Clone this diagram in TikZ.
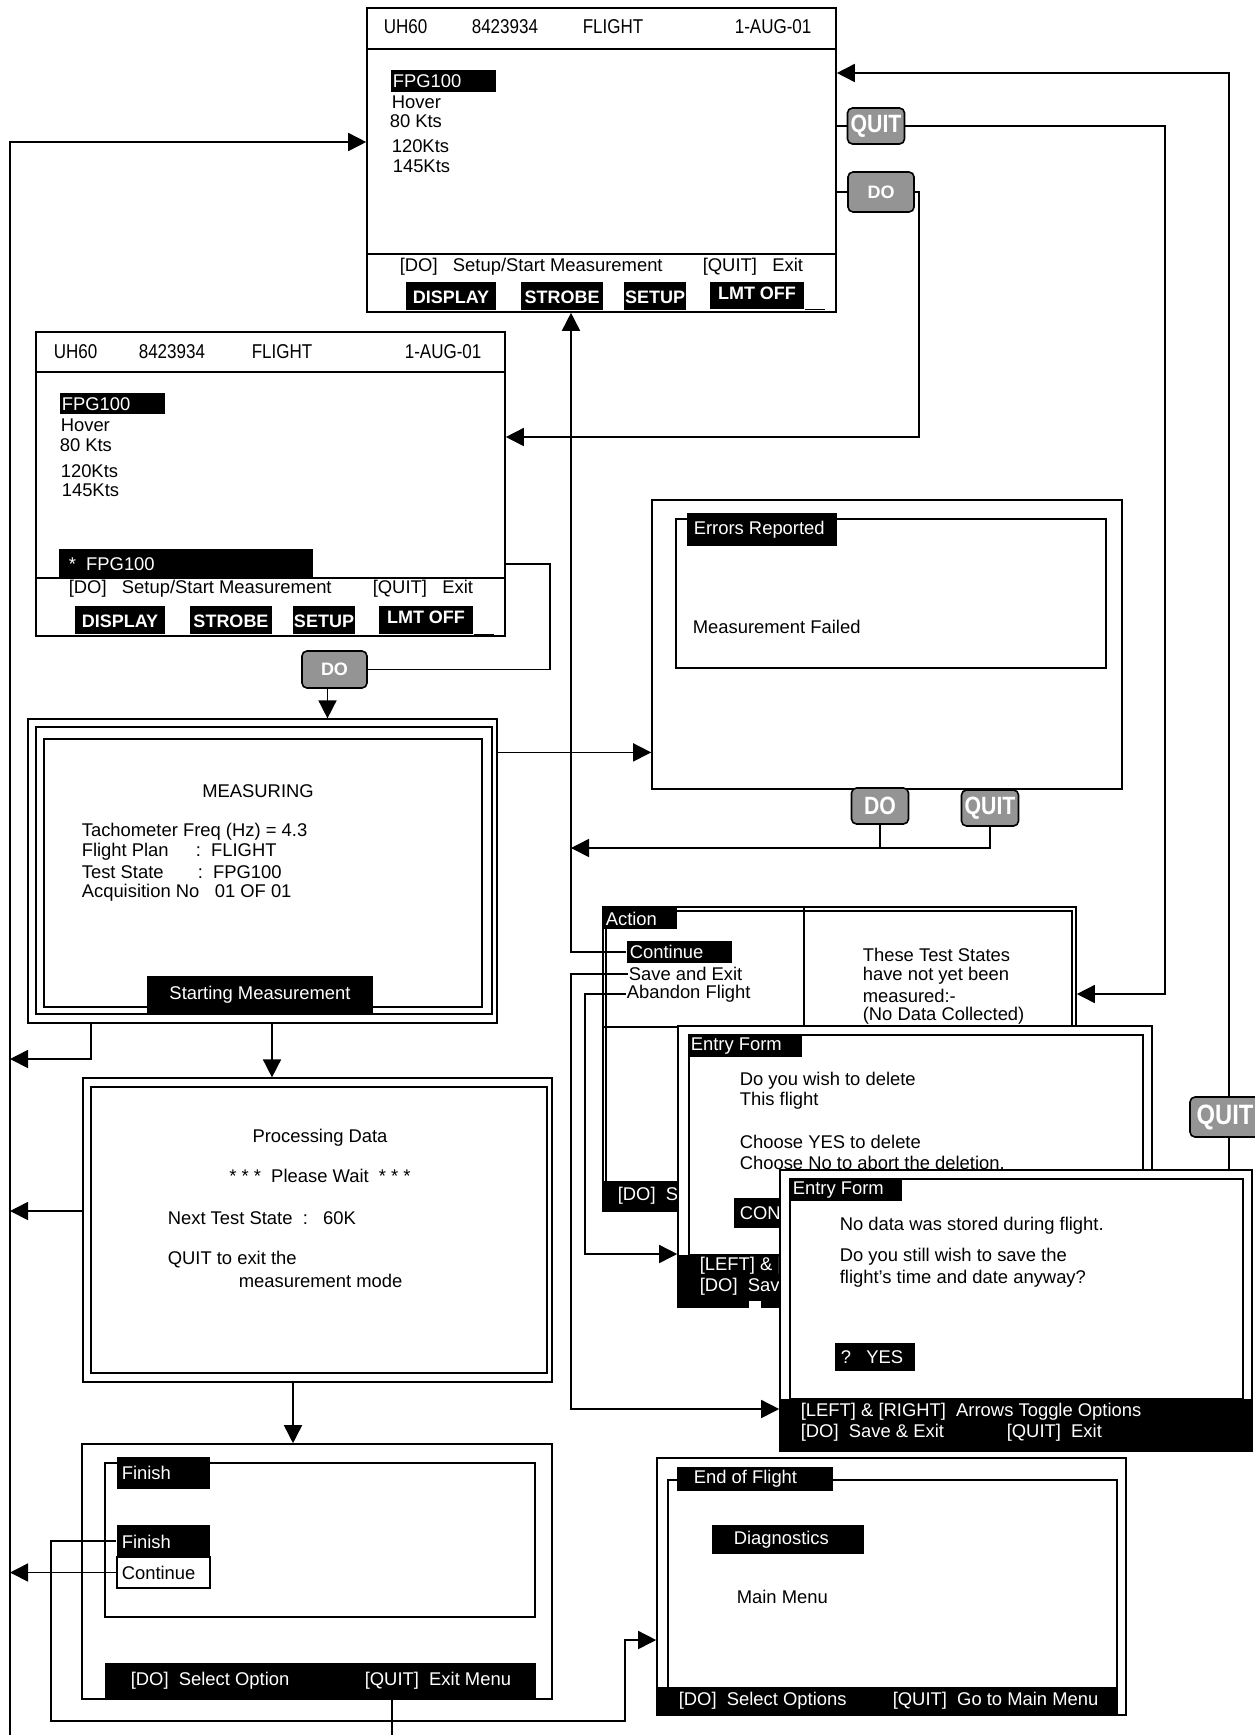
\documentclass[tikz,border=0pt]{standalone}
\usepackage{fontspec}
\setmainfont{Liberation Sans}
\newfontfamily\condfont[FakeStretch=0.85]{Liberation Sans}
\usetikzlibrary{arrows.meta,fit}

\begin{document}
\begin{tikzpicture}[x=0.5pt,y=-0.5pt,line width=0.8pt,
  every node/.style={font=\fontsize{9.2}{11}\selectfont, inner sep=0pt},
  scr/.style={draw, fill=white, inner sep=0pt},
  bar/.style={fill=black, inner sep=0pt},
  txt/.style={anchor=west},
  inv/.style={anchor=west, text=white},
  hdr/.style={anchor=west, font=\condfont\fontsize{10}{12}\selectfont},
  softkey/.style={text=white, font=\bfseries\fontsize{9}{11}\selectfont},
  btnsm/.style={draw, rounded corners=2.5pt, fill=black!42, text=white, font=\bfseries\fontsize{9}{11}\selectfont},
  btnbig/.style={draw, rounded corners=2.5pt, fill=black!42, text=white, font=\condfont\bfseries\fontsize{12.5}{14}\selectfont, minimum width=28.5pt, minimum height=18pt},
  arr/.style={-{Triangle[length=9pt,width=9pt]}}]
\useasboundingbox (0,0) rectangle (1254,1735);

% test state list
\node[scr, fit={(367,8) (836,312)}] (scrA) {};
\draw (367,49) -- (836,49) (367,254) -- (836,254);
\node[hdr] (aUh) at (383,27) {UH60};
\node[hdr] (aSer) at (471,27) {8423934};
\node[hdr] (aPlan) at (582,27) {FLIGHT};
\node[hdr] (aDate) at (734,27) {1-AUG-01};
\node[bar, fit={(391,70) (496,92)}] (aSel) {};
\node[inv] (aTs1) at (392,81) {FPG100};
\node[txt] (aTs2) at (391,102) {Hover};
\node[txt] (aTs3) at (389,121) {80 Kts};
\node[txt] (aTs4) at (391,146) {120Kts};
\node[txt] (aTs5) at (392,166) {145Kts};
\node[txt] (aHelp) at (399,267) {[DO]\ \ \ Setup/Start Measurement};
\node[txt] (aExit) at (702,267) {[QUIT]\ \ \ Exit};
\node[bar, fit={(406,282) (496,310)}] (aK1) {};
\node[bar, fit={(521,282) (603,310)}] (aK2) {};
\node[bar, fit={(624,282) (686,310)}] (aK3) {};
\node[bar, fit={(710,282) (804,309)}] (aK4) {};
\node[softkey] (aK1t) at (451,297) {DISPLAY};
\node[softkey] (aK2t) at (562,297) {STROBE};
\node[softkey] (aK3t) at (655,297) {SETUP};
\node[softkey] (aK4t) at (757,293) {LMT OFF};
\draw[line width=0.5pt] (aK4.south east) -- ++(20,0);
\node[btnbig] (k1quit) at (876,126) {QUIT};
\node[btnsm, minimum width=33pt, minimum height=20pt] (k1do) at (881,192) {DO};

% test state selected
\node[scr, fit={(36,332) (505,636)}] (scrB) {};
\draw (36,372) -- (505,372) (36,578) -- (505,578);
\node[hdr] (bUh) at (53,352) {UH60};
\node[hdr] (bSer) at (138,352) {8423934};
\node[hdr] (bPlan) at (251,352) {FLIGHT};
\node[hdr] (bDate) at (404,352) {1-AUG-01};
\node[bar, fit={(60,393) (165,414)}] (bSel) {};
\node[inv] (bTs1) at (61,404) {FPG100};
\node[txt] (bTs2) at (60,425) {Hover};
\node[txt] (bTs3) at (59,445) {80 Kts};
\node[txt] (bTs4) at (60,471) {120Kts};
\node[txt] (bTs5) at (61,490) {145Kts};
\node[bar, fit={(59,549) (313,578)}] (bPick) {};
\node[inv] (bPickT) at (68,564) {*\ \ FPG100};
\node[txt] (bHelp) at (68,589) {[DO]\ \ \ Setup/Start Measurement};
\node[txt] (bExit) at (372,589) {[QUIT]\ \ \ Exit};
\node[bar, fit={(75,606) (165,634)}] (bK1) {};
\node[bar, fit={(190,606) (272,634)}] (bK2) {};
\node[bar, fit={(293,606) (355,634)}] (bK3) {};
\node[bar, fit={(379,606) (473,634)}] (bK4) {};
\node[softkey] (bK1t) at (120,621) {DISPLAY};
\node[softkey] (bK2t) at (231,621) {STROBE};
\node[softkey] (bK3t) at (324,621) {SETUP};
\node[softkey] (bK4t) at (426,617) {LMT OFF};
\draw[line width=0.5pt] (bK4.south east) -- ++(20,0);
\node[btnsm, minimum width=32.5pt, minimum height=18.5pt] (k2do) at (334.5,669.5) {DO};

% measuring
\node[scr, line width=0.6pt, fit={(28,719) (497,1023)}] (scrC) {};
\draw[line width=0.6pt] (36,727) rectangle (492,1014);
\draw[line width=1.2pt] (44,739) rectangle (482,1007);
\node (cTitle) at (258,791) {MEASURING};
\node[txt] (cTach) at (81,832) {Tachometer Freq (Hz) = 4.3};
\node[txt] (cPlan) at (81,852) {\makebox[57pt][l]{Flight Plan}:\ \ FLIGHT};
\node[txt] (cState) at (81,872) {\makebox[58pt][l]{Test State}:\ \ FPG100};
\node[txt] (cAcq) at (81,893) {\makebox[66.5pt][l]{Acquisition No}01 OF 01};
\node[bar, fit={(147,976) (373,1013)}] (cStart) {};
\node[text=white] (cStartT) at (260,995) {Starting Measurement};

% processing
\node[scr, line width=0.6pt, fit={(83,1078) (552,1382)}] (scrD) {};
\draw[line width=1.2pt] (91,1087) rectangle (547,1373);
\node (dTitle) at (320,1138) {Processing Data};
\node (dWait) at (320,1176) {* * *\ \ Please Wait\ \ * * *};
\node[txt] (dNext) at (167,1218) {Next Test State\ \ :\ \ \ 60K};
\node[txt] (dQuit1) at (167,1260) {QUIT to exit the};
\node[txt] (dQuit2) at (238,1281) {measurement mode};

% finish menu
\node[scr, fit={(82,1444) (552,1699)}] (scrE) {};
\draw (105,1463) rectangle (535,1617);
\node[bar, fit={(117,1457) (210,1489)}] (eTitleBar) {};
\node[inv] (eTitle) at (121,1473) {Finish};
\node[bar, fit={(117,1525) (210,1557)}] (eFin) {};
\node[inv] (eFinT) at (121,1542) {Finish};
\node[scr, fit={(117,1557) (210,1588)}] (eCont) {};
\node[txt] (eContT) at (121,1573) {Continue};
\fill (105,1663) rectangle (536,1699);
\node[inv] (eHelp) at (130,1681) {[DO]\ \ Select Option};
\node[inv] (eExit) at (364,1681) {[QUIT]\ \ Exit Menu};

% end of flight
\node[scr, fit={(657,1458) (1126,1715)}] (eof) {};
\draw (668,1480) rectangle (1117,1713);
\node[bar, fit={(677,1467) (833,1491)}] (gTitleBar) {};
\node[inv] (gTitle) at (693,1479) {End of Flight};
\node[bar, fit={(712,1525) (864,1554)}] (gDiagBar) {};
\node[inv] (gDiag) at (733,1540) {Diagnostics};
\node[txt] (gMain) at (736,1597) {Main Menu};
\fill (657,1687) rectangle (1117,1715);
\node[inv] (gHelp) at (678,1701) {[DO]\ \ Select Options};
\node[inv] (gExit) at (892,1701) {[QUIT]\ \ Go to Main Menu};

% errors
\node[scr, fit={(652,500) (1122,789)}] (errs) {};
\draw (676,519) rectangle (1106,668);
\node[bar, fit={(687,513) (837,546)}] (rTitleBar) {};
\node[inv] (rTitle) at (693,530) {Errors Reported};
\node[txt] (rMsg) at (692,627) {Measurement Failed};
\node[btnbig] (eDo) at (880,806) {DO};
\node[btnbig] (eQuit) at (990,808) {QUIT};

% action window
\node[scr, fit={(603,907) (1076,1211)}] (act) {};
\draw (606,1211) -- (606,911) -- (1072,911) -- (1072,1211);
\draw (804,907) -- (804,1027) (603,1027) -- (1076,1027);
\node[bar, fit={(603,908) (677,929)}] (actTitleBar) {};
\node[inv] (actTitle) at (605,919) {Action};
\node[bar, fit={(627,941) (732,963)}] (actCont) {};
\node[inv] (actContT) at (629,952) {Continue};
\node[txt] (actSave) at (628,974) {Save and Exit};
\node[txt] (actAband) at (626,994) {Abandon Flight};
\node[txt] (actNote1) at (862,955) {These Test States};
\node[txt] (actNote2) at (862,976) {have not yet been};
\node[txt] (actNote3) at (862,996) {measured:-};
\node[txt] (actNote4) at (862,1016) {(No Data Collected)};
\fill (603,1181) rectangle (1076,1211);
\node[inv] (actHelp) at (617,1196) {[DO]\ \ S};

% entry form: delete
\node[scr, fit={(678,1026) (1152,1307)}] (ef1) {};
\draw (689,1035) rectangle (1143,1255);
\node[bar, fit={(689,1035) (802,1057)}] (f1TitleBar) {};
\node[inv] (f1Title) at (690,1046) {Entry Form};
\node[txt] (f1Q1) at (739,1081) {Do you wish to delete};
\node[txt] (f1Q2) at (739,1101) {This flight};
\node[txt] (f1Q3) at (739,1142) {Choose YES to delete};
\node[txt] (f1Q4) at (739,1163) {Choose No to abort the deletion.};
\fill (734,1198) rectangle (790,1228);
\node[inv] (f1Opt) at (739,1213) {CON};
\fill (678,1255) rectangle (1152,1307);
\fill[white] (749,1301) rectangle (761,1308);
\node[inv] (f1Help1) at (699,1266) {[LEFT] \& [};
\node[inv] (f1Help2) at (699,1287) {[DO]\ \ Sav};

% entry form: no data
\node[scr, fit={(780,1170) (1252,1451)}] (ef2) {};
\draw (790,1179) rectangle (1243,1399);
\node[bar, fit={(790,1179) (902,1201)}] (f2TitleBar) {};
\node[inv] (f2Title) at (792,1190) {Entry Form};
\node[txt] (f2Q1) at (839,1226) {No data was stored during flight.};
\node[txt] (f2Q2) at (839,1257) {Do you still wish to save the};
\node[txt] (f2Q3) at (839,1279) {flight’s time and date anyway?};
\node[bar, fit={(835,1343) (915,1371)}] (f2OptBar) {};
\node[inv] (f2Opt) at (840,1357) {?\ \ \ YES};
\fill (780,1399) rectangle (1253,1451);
\node[inv] (f2Help1) at (800,1412) {[LEFT] \& [RIGHT]\ \ Arrows Toggle Options};
\node[inv] (f2Help2) at (800,1433) {[DO]\ \ Save \& Exit};
\node[inv] (f2Help3) at (1006,1433) {[QUIT]\ \ Exit};
\node[btnbig, minimum width=35pt, minimum height=20pt, font=\condfont\bfseries\fontsize{14}{16}\selectfont] (rquit) at (1225,1117) {QUIT};

% connectors
\coordinate (busT) at (10,142);
\coordinate (busB) at (10,1735);
\draw[arr] (busB) -- (busT) -- (busT -| scrA.west);
\draw (scrA.east |- k1quit) -- (k1quit.west);
\coordinate (q1c) at (1165,0);
\draw[arr] (k1quit.east) -- (k1quit.east -| q1c) -- (q1c |- actAband) -- (act.east |- actAband);
\draw (scrA.east |- k1do) -- (k1do.west);
\coordinate (d1c) at (919,437);
\draw[arr] (k1do.east) -- (k1do.east -| d1c) -- (d1c) -- (d1c -| scrB.east);
\coordinate (d2c) at (550,564);
\draw (d2c -| scrB.east) -- (d2c) -- (d2c |- k2do) -- (k2do.east);
\coordinate (k2foot) at ([xshift=-3.5pt]k2do.south);
\draw[arr] (k2foot) -- (k2foot |- scrC.north);
\coordinate (cOut) at ([yshift=-17pt]scrC.north east);
\draw[arr] (cOut) -- (cOut -| errs.west);
\coordinate (vx) at (571,848);
\draw[arr] (eQuit.south) |- (vx);
\draw (eDo.south) -- (eDo.south |- vx);
\draw[arr] (actCont.west) -| (vx |- scrA.south);
\coordinate (sv) at (571,1409);
\draw[arr] (actSave.west) -| (sv) -- (sv -| ef2.west);
\coordinate (ab) at (585,1254);
\draw[arr] (actAband.west) -| (ab) -- (ab -| ef1.west);
\coordinate (rtop) at (1229,73);
\draw (ef2.north -| rtop) -- (rquit.south -| rtop);
\draw[arr] (rquit.north -| rtop) -- (rtop) -- (rtop -| scrA.east);
\coordinate (m1) at (91,1059);
\draw[arr] (m1 |- scrC.south) -- (m1) -- (m1 -| busT);
\coordinate (cFoot) at ([xshift=4.75pt]scrC.south);
\draw[arr] (cFoot) -- (cFoot |- scrD.north);
\coordinate (dSide) at ([yshift=9.5pt]scrD.west);
\draw[arr] (dSide) -- (dSide -| busT);
\coordinate (dFoot) at ([xshift=-12.25pt]scrD.south);
\draw[arr] (dFoot) -- (dFoot |- scrE.north);
\draw[arr] (eCont.west) -- (eCont.west -| busT);
\coordinate (f1) at (51,1721);
\coordinate (f2) at (625,1640);
\draw[arr] (eFin.west) -| (f1) -| (f2) -- (f2 -| eof.west);
\coordinate (eFoot) at ([xshift=37.5pt]scrE.south);
\draw (eFoot) -- (eFoot |- busB);
\end{tikzpicture}
\end{document}
